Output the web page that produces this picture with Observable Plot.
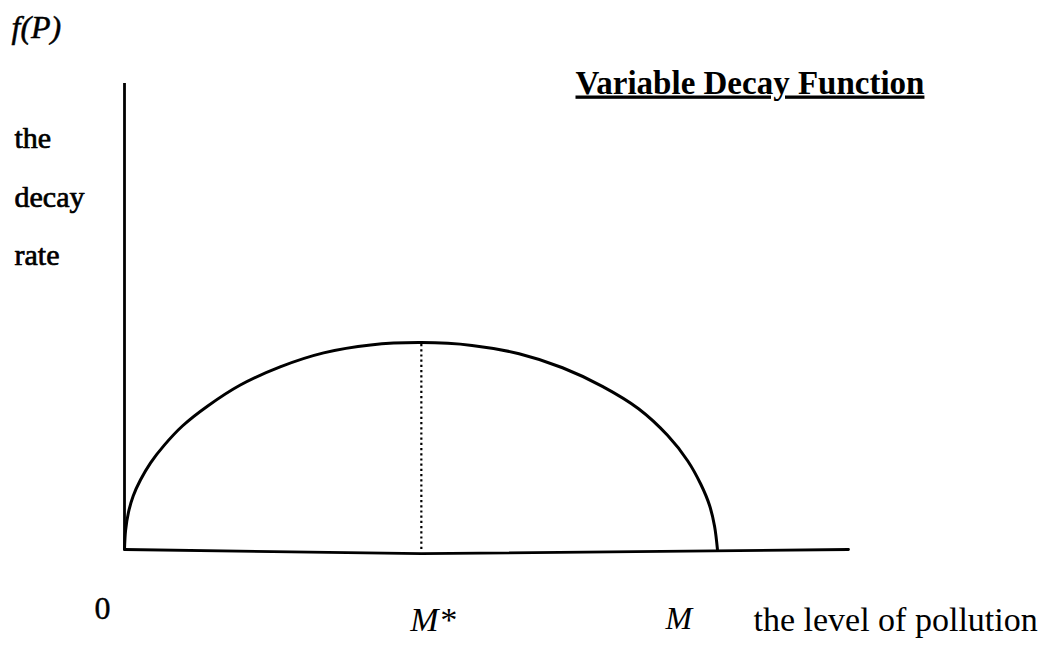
<!DOCTYPE html>
<html>
<head>
<meta charset="utf-8">
<script src="https://cdn.jsdelivr.net/npm/d3@7"></script>
<script src="https://cdn.jsdelivr.net/npm/@observablehq/plot@0.6"></script>
<style>
  html, body { margin: 0; padding: 0; background: #fff; }
  #chart svg { display: block; }
</style>
</head>
<body>
<div id="chart"></div>
<script>
// ---- data ----
// the level of pollution (0 .. 100 = end of the horizontal axis)
const pollution = [0, 0.15, 0.55, 1.2, 2.2, 3.6, 5.5, 8.0, 11.5, 16.0, 21.5, 27.5, 34.0, 41.0, 48.0, 54.5, 60.5, 66.0, 71.0, 75.0, 77.8, 79.6, 80.8, 81.5, 81.9];
// the decay rate f(P) (0 .. 100 = top of the vertical axis)
const decayRate = [0, 4.1, 8.0, 11.5, 14.9, 18.6, 22.4, 26.5, 30.8, 35.3, 39.2, 42.2, 43.9, 44.4, 43.8, 42.0, 39.0, 35.0, 30.2, 24.5, 19.0, 14.0, 9.5, 5.0, 0];
// hand-drawn horizontal axis (slight sag)
const axisX = [0, 41, 100];
const axisY = [0, -0.9, 0];
const axisTop = 100;
// key points
const mStar = 41.0;       // M*
const mStarPeak = 44.4;   // f(M*)
const mMax = 81.9;        // M
// texts
const titleText = "Variable Decay Function";
const yTitle = "f(P)";
const yLabelLines = ["the", "decay", "rate"];
const xLabel = "the level of pollution";
const tickLabels = { zero: "0", mStar: "M*", m: "M" };

const curve = pollution.map((p, i) => ({ p, f: decayRate[i] }));
const axisLine = axisX.map((x, i) => ({ x, y: axisY[i] }));

const serif = "'Liberation Serif', 'Times New Roman', serif";

const chart = Plot.plot({
  width: 1041,
  height: 652,
  marginLeft: 124,
  marginRight: 193,
  marginTop: 83,
  marginBottom: 103,
  x: { domain: [0, 100], axis: null },
  y: { domain: [0, 100], axis: null },
  style: { background: "#fff", color: "#000", fontFamily: serif },
  marks: [
    // vertical axis
    Plot.ruleX([0], { y1: 0, y2: axisTop, stroke: "#000", strokeWidth: 2.8 }),
    // horizontal axis
    Plot.line(axisLine, { x: "x", y: "y", stroke: "#000", strokeWidth: 2.8 }),
    // dotted line at M*
    Plot.ruleX([mStar], { y1: 0, y2: mStarPeak, stroke: "#000", strokeWidth: 2.2, strokeDasharray: "2.2,3" }),
    // the decay curve
    Plot.line(curve, { x: "p", y: "f", curve: "catmull-rom", stroke: "#000", strokeWidth: 3 }),
    // title
    Plot.text([titleText], { x: 0, y: axisTop, dx: 451, dy: 10, text: d => d, textAnchor: "start", lineAnchor: "bottom",
      fontSize: 33, fontWeight: "bold", fill: "#000", fontFamily: serif }),
    // y title f(P)
    Plot.text([yTitle], { x: 0, y: axisTop, dx: -113, dy: -46, text: d => d, textAnchor: "start", lineAnchor: "bottom",
      fontSize: 32, fontStyle: "italic", fill: "#000", stroke: "#000", strokeWidth: 0.5, fontFamily: serif }),
    // y label lines
    Plot.text([yLabelLines.join("\n")], { x: 0, y: axisTop, dx: -110, dy: 23, text: d => d, textAnchor: "start", lineAnchor: "top",
      lineHeight: 1.95, fontSize: 30, fill: "#000", stroke: "#000", strokeWidth: 0.7, fontFamily: serif }),
    // tick labels
    Plot.text([tickLabels.zero], { x: 0, y: 0, dx: -22, dy: 69, text: d => d, textAnchor: "middle", lineAnchor: "bottom",
      fontSize: 32, fill: "#000", stroke: "#000", strokeWidth: 0.4, fontFamily: serif }),
    Plot.text([tickLabels.mStar], { x: mStar, y: 0, dx: -11, dy: 81, text: d => d, textAnchor: "start", lineAnchor: "bottom",
      fontSize: 34, fontStyle: "italic", fill: "#000", fontFamily: serif }),
    Plot.text([tickLabels.m], { x: mMax, y: 0, dx: -52, dy: 79, text: d => d, textAnchor: "start", lineAnchor: "bottom",
      fontSize: 32, fontStyle: "italic", fill: "#000", fontFamily: serif }),
    // x label
    Plot.text([xLabel], { x: 100, y: 0, dx: -95, dy: 81, text: d => d, textAnchor: "start", lineAnchor: "bottom",
      fontSize: 34, fill: "#000", fontFamily: serif })
  ]
});

// underline the title
d3.select(chart).selectAll("text").each(function () {
  if (this.textContent === titleText) {
    this.style.textDecoration = "underline";
    this.style.textDecorationThickness = "3px";
    this.style.textUnderlineOffset = "5px";
  }
});

document.getElementById("chart").appendChild(chart);
</script>
</body>
</html>
